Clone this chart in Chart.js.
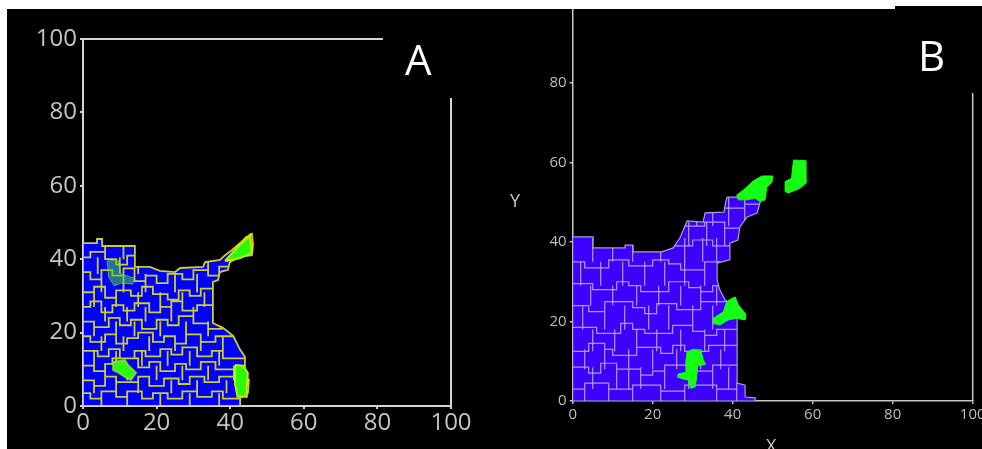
<!DOCTYPE html>
<html>
<head>
<meta charset="utf-8">
<script src="https://cdn.jsdelivr.net/npm/chart.js@4"></script>
<style>
  body { margin: 0; background: #fff; width: 982px; height: 449px; overflow: hidden; position: relative; }
  .panel { position: absolute; background: #000; }
  canvas { position: absolute; }
  .lbl { position: absolute; font-family: 'Open Sans', sans-serif; line-height: 1; }
</style>
</head>
<body>
<div class="panel" style="left:7px; top:9px; width:483px; height:440px;"></div>
<div class="panel" style="left:490px; top:9px; width:492px; height:440px;"></div>
<div class="panel" style="left:895px; top:6px; width:87px; height:10px;"></div>
<canvas id="chartA" width="483" height="440" style="left:7px; top:9px;"></canvas>
<canvas id="chartB" width="492" height="440" style="left:490px; top:9px;"></canvas>
<div class="lbl" style="left:405px; top:38px; font-size:42px; color:#fff;">A</div>
<div class="lbl" style="left:918px; top:34px; font-size:42px; color:#fff;">B</div>
<div class="lbl" style="left:510px; top:191px; font-size:18px; color:#c8c8c8;">Y</div>
<div class="lbl" style="left:766px; top:436px; font-size:18px; color:#c8c8c8;">X</div>
<script>
// tick labels
const ticksA = [0, 20, 40, 60, 80, 100];
const ticksBx = [0, 20, 40, 60, 80, 100];
const ticksBy = [0, 20, 40, 60, 80];

// panel A: cluster outline (x, y)
const blobA = [
    [0, 0], [0, 44.4], [3.8, 44.4], [3.8, 45.5], [5.2, 45.5], [5.2, 43.6], [14.1, 43.6], [14.1, 37.9],
    [18.2, 37.9], [20.9, 36.8], [25, 36.5], [26.4, 37.6], [32.6, 37.9], [33.2, 39.2], [37.2, 39.8],
    [38.6, 41.1], [40.5, 42.5], [42.7, 44.4], [44.3, 46], [45.9, 46.9], [46.2, 43.9], [45.9, 41.1],
    [42.1, 40.6], [39.9, 39.2], [39.4, 37.1], [37.2, 36.5], [36.7, 34.3], [35.3, 33.8], [35.3, 22.6],
    [38, 21.3], [40.8, 19.1], [42.7, 15.3], [44, 13.4], [44, 8.4], [45.1, 7.1], [44.8, 3.5],
    [42.7, 2.2], [42.7, 0], [0, 0]
];
const greenA1 = [[38.6, 39.5], [41.8, 43.1], [44.6, 45.8], [45.4, 46.6], [45.9, 41.7], [42.7, 40.3], [40.5, 39.8], [38.6, 39.5]];
const greenA2 = [[8.2, 12], [11.4, 12.5], [12.2, 11.2], [14.4, 9], [13, 7.1], [11.4, 7.9], [9.8, 9], [8.2, 9.8], [8.2, 12]];
const greenA3 = [[41.3, 11.2], [43.5, 11], [44.8, 9], [44.5, 5], [44.5, 2.5], [42, 2.5], [41.3, 6], [41.3, 11.2]];
const greenA4 = [[6.5, 39.5], [9.5, 39.8], [10.3, 36], [14, 34.8], [13.5, 33.2], [10.3, 33.5], [8.5, 32.7], [7, 35], [6.5, 39.5]];

// panel A: cell walls, stepped rows and vertical pieces [y0, y1, xs]
const rowsA = [
    [[0, 40.5], [2, 40.5], [2, 42], [6, 42], [6, 40], [9, 40], [9, 38.5], [12, 38.5], [12, 41], [15, 41]],
    [[0, 36.5], [2, 36.5], [2, 34.5], [5, 34.5], [5, 37], [8, 37], [8, 35.5], [11, 35.5], [11, 37.5], [14, 37.5], [14, 34], [17, 34], [17, 35.5], [20, 35.5], [20, 33.5], [23, 33.5], [23, 36], [27, 36], [27, 34.5], [30, 34.5], [30, 37], [34, 37], [34, 35.5], [37, 35.5], [37, 38], [41, 38]],
    [[0, 31], [3, 31], [3, 32.5], [6, 32.5], [6, 29.5], [9, 29.5], [9, 31.5], [13, 31.5], [13, 30], [16, 30], [16, 32.5], [19, 32.5], [19, 30.5], [23, 30.5], [23, 29], [26, 29], [26, 31.5], [29, 31.5], [29, 30], [32, 30], [32, 32], [36, 32]],
    [[0, 27], [2, 27], [2, 28.5], [5, 28.5], [5, 25.5], [8, 25.5], [8, 27.5], [11, 27.5], [11, 26], [14, 26], [14, 28], [18, 28], [18, 25.5], [21, 25.5], [21, 27], [24, 27], [24, 28.5], [27, 28.5], [27, 26], [31, 26], [31, 27.5], [36, 27.5]],
    [[0, 23], [3, 23], [3, 21.5], [7, 21.5], [7, 24], [10, 24], [10, 22], [13, 22], [13, 23.5], [16, 23.5], [16, 21], [20, 21], [20, 23.5], [23, 23.5], [23, 22], [26, 22], [26, 24.5], [30, 24.5], [30, 22.5], [34, 22.5], [34, 21], [38, 21]],
    [[0, 19], [2, 19], [2, 17.5], [6, 17.5], [6, 19.5], [9, 19.5], [9, 17], [12, 17], [12, 18.5], [15, 18.5], [15, 20], [19, 20], [19, 17.5], [22, 17.5], [22, 19], [25, 19], [25, 17], [28, 17], [28, 19.5], [32, 19.5], [32, 17.5], [36, 17.5], [36, 19], [42, 19]],
    [[0, 15], [4, 15], [4, 13.5], [7, 13.5], [7, 15.5], [10, 15.5], [10, 13], [14, 13], [14, 15], [17, 15], [17, 13.5], [21, 13.5], [21, 15.5], [24, 15.5], [24, 14], [27, 14], [27, 16], [31, 16], [31, 13.5], [35, 13.5], [35, 15], [38, 15], [38, 13], [45, 13]],
    [[0, 11], [3, 11], [3, 9.5], [6, 9.5], [6, 11.5], [8, 11.5], [8, 13], [15, 13], [15, 10.5], [18, 10.5], [18, 12], [21, 12], [21, 9.5], [25, 9.5], [25, 11.5], [28, 11.5], [28, 10], [32, 10], [32, 12], [36, 12], [36, 10], [45, 10]],
    [[0, 7], [3, 7], [3, 5.5], [6, 5.5], [6, 8], [9, 8], [9, 6.5], [15, 6.5], [15, 8], [18, 8], [18, 5.5], [22, 5.5], [22, 7.5], [26, 7.5], [26, 6], [29, 6], [29, 8], [33, 8], [33, 6.5], [37, 6.5], [37, 8], [41, 8]],
    [[0, 3.5], [2, 3.5], [2, 2], [5, 2], [5, 4], [9, 4], [9, 2.5], [12, 2.5], [12, 4], [16, 4], [16, 2], [19, 2], [19, 3.5], [23, 3.5], [23, 2], [27, 2], [27, 4], [31, 4], [31, 2.5], [35, 2.5], [35, 4], [38, 4], [38, 2], [45, 2]]
];
const colsA = [
    [0, 3.5, [5, 12, 21, 29, 37]],
    [3.5, 7, [3, 9, 15, 24, 31, 39]],
    [7, 11, [6, 12, 20, 27, 34, 41]],
    [11, 15, [3, 9, 16, 23, 29, 37]],
    [15, 19, [5, 11, 18, 25, 32, 38]],
    [19, 23, [3, 9, 14, 21, 28, 34]],
    [23, 27, [6, 12, 17, 24, 30]],
    [27, 31, [3, 9, 15, 21, 27, 33]],
    [31, 36, [5, 11, 17, 25, 31]],
    [36, 40.5, [4, 10, 15, 34]],
    [40, 46, [6, 11]]
];

// panel B: cluster outline
const blobB = [
    [0, 0], [0, 41.3], [5.1, 41.3], [5.1, 38.5], [13.1, 38.5], [13.1, 39.2], [15.1, 39.2], [15.1, 37.5],
    [22.3, 37.5], [25.1, 38.5], [26.8, 41], [28.6, 45.3], [32.6, 45], [33.1, 47.3], [37.8, 47.5],
    [38.3, 50.3], [38.6, 51.3], [47.6, 51.3], [46.8, 49.8], [46.1, 47.3], [43.6, 46.3], [41.8, 43.8],
    [41.3, 40.5], [39.3, 39.7], [39.3, 35.5], [36.1, 34.7], [36.1, 30.4], [36.8, 27.9], [38.1, 25.4],
    [41.1, 23.4], [41.1, 4.5], [43.1, 4], [43.1, 1], [45.6, 0.8], [45.6, 0], [0, 0]
];
const greenB1 = [[41, 51.8], [42.7, 53.1], [45.2, 55.4], [47.3, 56.6], [50, 56.6], [49.8, 55], [48.5, 53.7], [48.1, 50.6], [46.8, 50.2], [45.6, 51], [43.5, 50.6], [41.4, 50.6], [41, 51.8]];
const greenB2 = [[53.1, 55.2], [54.7, 56], [55.2, 60.6], [58.1, 60.5], [58.3, 54.8], [56.8, 53.5], [53.9, 52.3], [53.1, 52.7], [53.1, 55.2]];
const greenB3 = [[35.2, 20.8], [37.7, 22.5], [38.5, 25], [40.6, 26.2], [41.4, 24.2], [43.3, 21.8], [43.1, 20.4], [41, 20.8], [38.9, 20.4], [36.8, 19.1], [35.2, 19.5], [35.2, 20.8]];
const greenB4 = [[28.6, 12.3], [30, 13], [32, 12.8], [32.6, 10.5], [33.2, 9.2], [31.2, 8.8], [31, 6], [30.6, 3.5], [29.5, 3.2], [29, 5.2], [27.8, 5.5], [26.2, 6], [26.3, 6.8], [28.2, 7.2], [28.3, 10], [28.6, 12.3]];

const rowsB = [
    [[0, 3], [3, 3], [3, 4.5], [9, 4.5], [9, 3], [15, 3], [15, 4], [22, 4], [22, 2.5], [28, 2.5], [28, 4], [36, 4], [36, 3], [41, 3], [41, 4.5], [46, 4.5]],
    [[0, 8.5], [4, 8.5], [4, 7], [7, 7], [7, 9.5], [11, 9.5], [11, 8], [17, 8], [17, 6.5], [20, 6.5], [20, 7.5], [23, 7.5], [23, 9], [29, 9], [29, 7.5], [35, 7.5], [35, 9], [42, 9]],
    [[0, 12.5], [4, 12.5], [4, 14.5], [8, 14.5], [8, 13], [10, 13], [10, 11.5], [16, 11.5], [16, 13.5], [22, 13.5], [22, 12], [25, 12], [25, 14], [28, 14], [28, 12.5], [34, 12.5], [34, 14], [42, 14]],
    [[0, 18.5], [6, 18.5], [6, 17], [12, 17], [12, 19.5], [15, 19.5], [15, 18], [18, 18], [18, 17], [25, 17], [25, 19], [30, 19], [30, 17.5], [33, 17.5], [33, 16.5], [36, 16.5], [36, 18], [42, 18]],
    [[0, 24], [4, 24], [4, 22.5], [8, 22.5], [8, 25], [15, 25], [15, 23.5], [18, 23.5], [18, 22], [21, 22], [21, 24.5], [26, 24.5], [26, 23], [32, 23], [32, 25], [40, 25]],
    [[0, 29.5], [5, 29.5], [5, 28], [11, 28], [11, 30], [14, 30], [14, 29], [17, 29], [17, 27.5], [24, 27.5], [24, 30], [29, 30], [29, 28.5], [32, 28.5], [32, 27.5], [35, 27.5], [35, 29], [38, 29]],
    [[0, 35], [3, 35], [3, 33.5], [9, 33.5], [9, 35.5], [14, 35.5], [14, 34], [20, 34], [20, 35.5], [24, 35.5], [24, 34.5], [27, 34.5], [27, 33], [33, 33], [33, 35], [37, 35]],
    [[25, 39], [30, 39], [30, 40.5], [35, 40.5], [35, 39], [40, 39]],
    [[28, 44], [33, 44], [33, 45], [38, 45], [38, 43.5], [42, 43.5]],
    [[38, 48.5], [43, 48.5], [43, 49.5], [47, 49.5]]
];
const colsB = [
    [0, 3, [3, 9, 15, 22, 28, 36, 41]],
    [3, 8.5, [5, 11, 14, 17, 23, 29, 35, 39]],
    [8, 13, [3, 8, 14, 20, 26, 32, 37]],
    [12.5, 18, [5, 10.5, 16, 21, 27, 33, 38]],
    [18, 24, [2.5, 8, 13, 19, 24, 30, 35]],
    [24, 29, [4.5, 10, 16, 21.5, 27, 32, 36]],
    [29, 35, [2, 7, 12.5, 18, 23, 28, 33]],
    [35, 41, [5, 10, 15, 22, 28, 32.5, 36]],
    [39, 45, [29, 33.5, 38]],
    [44, 52, [31, 35, 39, 43]]
];

// partial frame lines (top and right) as drawn in the figure
const frameA = [[[0, 100], [81.5, 100]], [[100, 83.9], [100, 0]]];
const frameB = [[[100, 77.5], [100, 0]]];

const toPts = arr => arr.map(([x, y]) => ({ x, y }));

function wallPoints(rows, cols) {
    const out = [];
    rows.forEach(line => {
        line.forEach(([x, y]) => out.push({ x, y }));
        out.push({ x: null, y: null });
    });
    cols.forEach(([y0, y1, xs]) => {
        xs.forEach(x => {
            out.push({ x, y: y0 }, { x, y: y1 }, { x: null, y: null });
        });
    });
    return out;
}

// clip cell walls to the cluster outline
const clipToBlob = {
    id: 'clipToBlob',
    beforeDatasetDraw(chart, args) {
        const ds = chart.data.datasets[args.index];
        if (ds.clipTo === undefined) return;
        const pts = chart.getDatasetMeta(ds.clipTo).data;
        const ctx = chart.ctx;
        ctx.save();
        ctx.beginPath();
        pts.forEach((p, i) => i ? ctx.lineTo(p.x, p.y) : ctx.moveTo(p.x, p.y));
        ctx.closePath();
        ctx.clip();
    },
    afterDatasetDraw(chart, args) {
        const ds = chart.data.datasets[args.index];
        if (ds.clipTo !== undefined) chart.ctx.restore();
    }
};

function shape(points, fillColor, lineColor, width, order) {
    return {
        data: toPts(points), showLine: true, fill: 'shape', backgroundColor: fillColor,
        borderColor: lineColor, borderWidth: width, pointRadius: 0, tension: 0, order: order
    };
}

function makePanel(id, p) {
    const ctx = document.getElementById(id).getContext('2d');
    const datasets = [
        shape(p.blob, p.blue, p.wall, p.wallWidth, 5),
        {
            data: wallPoints(p.rows, p.cols), showLine: true, spanGaps: false, borderColor: p.wall,
            borderWidth: p.wallWidth, pointRadius: 0, tension: 0, order: 4, clipTo: 0
        }
    ];
    p.greens.forEach(g => datasets.push(shape(g.pts, g.fill, g.line, g.width, 3)));
    p.frame.forEach(f => datasets.push({
        data: toPts(f), showLine: true, borderColor: p.axis, borderWidth: p.axisWidth,
        pointRadius: 0, order: 1, clip: false
    }));

    return new Chart(ctx, {
        type: 'scatter',
        data: { datasets },
        options: {
            responsive: false,
            animation: false,
            events: [],
            layout: { padding: p.padding },
            plugins: { legend: { display: false }, tooltip: { enabled: false } },
            scales: {
                x: {
                    type: 'linear', min: 0, max: 100,
                    afterBuildTicks: s => { s.ticks = p.xTicks.map(v => ({ value: v })); },
                    afterFit: s => { s.height = p.xHeight; s.paddingLeft = 0; s.paddingRight = 0; },
                    border: { display: true, color: p.axis, width: p.axisWidth },
                    grid: { drawOnChartArea: false, drawTicks: true, tickLength: 3, color: p.axis, lineWidth: p.axisWidth },
                    ticks: { color: p.tickColor, font: p.font, padding: p.xPad, maxRotation: 0, autoSkip: false }
                },
                y: {
                    type: 'linear', min: 0, max: p.yMax,
                    afterBuildTicks: s => { s.ticks = p.yTicks.map(v => ({ value: v })); },
                    afterFit: s => { s.width = p.yWidth; s.paddingTop = 0; s.paddingBottom = 0; },
                    border: { display: true, color: p.axis, width: p.axisWidth },
                    grid: { drawOnChartArea: false, drawTicks: true, tickLength: 3, color: p.axis, lineWidth: p.axisWidth },
                    ticks: { color: p.tickColor, font: p.font, padding: p.yPad, autoSkip: false }
                }
            }
        },
        plugins: [clipToBlob]
    });
}

const greenA = 'rgb(40,250,10)';
const glowA = 'rgb(200,235,0)';
makePanel('chartA', {
    blob: blobA, rows: rowsA, cols: colsA, frame: frameA,
    blue: 'rgb(0,0,255)', wall: 'rgb(205,205,45)', wallWidth: 1.8,
    greens: [
        { pts: greenA1, fill: greenA, line: glowA, width: 2 },
        { pts: greenA2, fill: greenA, line: 'rgba(150,230,40,0.8)', width: 2 },
        { pts: greenA3, fill: greenA, line: glowA, width: 2 },
        { pts: greenA4, fill: 'rgba(70,210,50,0.55)', line: 'rgba(150,220,40,0.6)', width: 1 }
    ],
    axis: '#d4d4d4', axisWidth: 2, tickColor: '#c4c4c4',
    font: { family: 'Open Sans', size: 24 },
    xTicks: ticksA, yTicks: ticksA, yMax: 100,
    padding: { left: 0, right: 39, top: 30, bottom: 0 },
    xHeight: 43, yWidth: 76, xPad: 0, yPad: 3
});

makePanel('chartB', {
    blob: blobB, rows: rowsB, cols: colsB, frame: frameB,
    blue: 'rgb(62,0,255)', wall: 'rgb(172,158,212)', wallWidth: 1.2,
    greens: [
        { pts: greenB1, fill: 'rgb(20,255,20)', line: 'rgb(20,255,20)', width: 1 },
        { pts: greenB2, fill: 'rgb(20,255,20)', line: 'rgb(20,255,20)', width: 1 },
        { pts: greenB3, fill: 'rgb(20,255,20)', line: 'rgb(20,255,20)', width: 1 },
        { pts: greenB4, fill: 'rgb(20,255,20)', line: 'rgb(20,255,20)', width: 1 }
    ],
    axis: '#c8c8c8', axisWidth: 1.5, tickColor: '#bdbdbd',
    font: { family: 'Open Sans', size: 15 },
    xTicks: ticksBx, yTicks: ticksBy, yMax: 98.6,
    padding: { left: 0, right: 9.3, top: 0, bottom: 0 },
    xHeight: 48, yWidth: 82.7, xPad: 2, yPad: 3
});
</script>
</body>
</html>
